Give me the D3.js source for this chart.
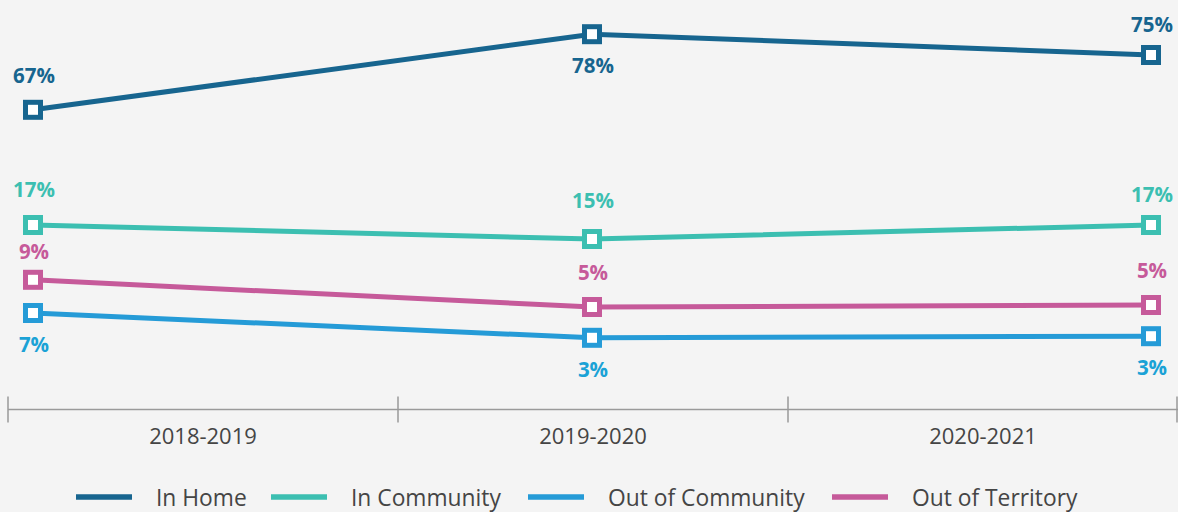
<!DOCTYPE html>
<html>
<head>
<meta charset="utf-8">
<script src="https://cdn.jsdelivr.net/npm/d3@7"></script>
<style>
  html, body { margin: 0; padding: 0; background: #f4f4f4; }
  svg { display: block; font-family: "Open Sans", sans-serif; }
</style>
</head>
<body>
<svg id="chart" width="1178" height="512"></svg>
<script>
// ---- data ----
const categories = ["2018-2019", "2019-2020", "2020-2021"];
const seriesNames = ["In Home", "In Community", "Out of Community", "Out of Territory"];
// plotted values (hidden value axis, read from the vertical positions)
const inHomeValues = [74.8, 93.7, 88.5];
const inCommunityValues = [46.0, 42.5, 46.0];
const outOfCommunityValues = [24.0, 17.8, 18.2];
const outOfTerritoryValues = [32.3, 25.5, 26.0];
// data labels as shown
const inHomeLabels = ["67%", "78%", "75%"];
const inCommunityLabels = ["17%", "15%", "17%"];
const outOfCommunityLabels = ["7%", "3%", "3%"];
const outOfTerritoryLabels = ["9%", "5%", "5%"];

const colors = ["#17658f", "#3cbfb1", "#259bd7", "#c65a9a"];
const labelColors = ["#17658f", "#3cbfb1", "#1ba2d6", "#c65a9a"];
// label placement per point: "above" or "below"
const placements = [
  ["above", "below", "above"],
  ["above", "above", "above"],
  ["below", "below", "below"],
  ["above", "above", "above"]
];
const aboveOffsets = [[-27, 0, -23], [-28, -31, -23], [0, 0, 0], [-21, -27, -27]];

const seriesValues = [inHomeValues, inCommunityValues, outOfCommunityValues, outOfTerritoryValues];
const seriesLabels = [inHomeLabels, inCommunityLabels, outOfCommunityLabels, outOfTerritoryLabels];

const series = seriesNames.map((name, i) => ({
  name, color: colors[i], labelColor: labelColors[i],
  points: categories.map((c, j) => ({ cat: c, value: seriesValues[i][j], label: seriesLabels[i][j], place: placements[i][j], off: aboveOffsets[i][j] }))
}));

// ---- scales ----
const svg = d3.select("#chart");
const xBand = d3.scaleBand().domain(categories).range([8, 1178]).paddingInner(0).paddingOuter(0);
const xPoint = d3.scalePoint().domain(categories).range([33, 1151]);
const y = d3.scaleLinear().domain([0, 100]).range([409, 9]);

// ---- axis ----
const axisG = svg.append("g").attr("transform", "translate(0,409.5)");
axisG.append("line").attr("x1", 8).attr("x2", 1178).attr("stroke", "#9a9a9a").attr("stroke-width", 1.5);
const tickPositions = categories.map(c => xBand(c)).concat([xBand.range()[1]]);
axisG.selectAll("line.tick").data(tickPositions).enter().append("line")
  .attr("class", "tick")
  .attr("x1", d => Math.min(d, 1177)).attr("x2", d => Math.min(d, 1177))
  .attr("y1", -13).attr("y2", 13)
  .attr("stroke", "#9a9a9a").attr("stroke-width", 1.5);
axisG.selectAll("text").data(categories).enter().append("text")
  .attr("x", d => xBand(d) + xBand.bandwidth() / 2)
  .attr("y", 34)
  .attr("text-anchor", "middle")
  .attr("font-size", 22)
  .attr("fill", "#454545")
  .text(d => d);

// ---- lines ----
const line = d3.line().x(d => xPoint(d.cat)).y(d => y(d.value));
const sG = svg.selectAll("g.series").data(series).enter().append("g").attr("class", "series");
sG.append("path")
  .attr("d", d => line(d.points))
  .attr("fill", "none")
  .attr("stroke", d => d.color)
  .attr("stroke-width", 5);

sG.each(function(s) {
  const g = d3.select(this);
  g.selectAll("rect").data(s.points).enter().append("rect")
    .attr("x", d => xPoint(d.cat) - 7.5)
    .attr("y", d => y(d.value) - 7.5)
    .attr("width", 15).attr("height", 15)
    .attr("fill", "#ffffff")
    .attr("stroke", s.color)
    .attr("stroke-width", 5);
  g.selectAll("text").data(s.points).enter().append("text")
    .attr("x", d => xPoint(d.cat) + 1)
    .attr("y", d => d.place === "above" ? y(d.value) + d.off : y(d.value) + 39)
    .attr("text-anchor", "middle")
    .attr("font-size", 20.5)
    .attr("font-weight", "bold")
    .attr("fill", s.labelColor)
    .text(d => d.label);
});

// ---- legend ----
const legendX = [76, 271, 528, 832];
const lg = svg.selectAll("g.legend").data(series).enter().append("g")
  .attr("class", "legend")
  .attr("transform", (d, i) => `translate(${legendX[i]},497)`);
lg.append("line").attr("x1", 0).attr("x2", 56)
  .attr("stroke", d => d.color).attr("stroke-width", 5.5);
lg.append("text").attr("x", 80).attr("y", 9)
  .attr("font-size", 22.8)
  .attr("fill", "#454545")
  .text(d => d.name);
</script>
</body>
</html>
